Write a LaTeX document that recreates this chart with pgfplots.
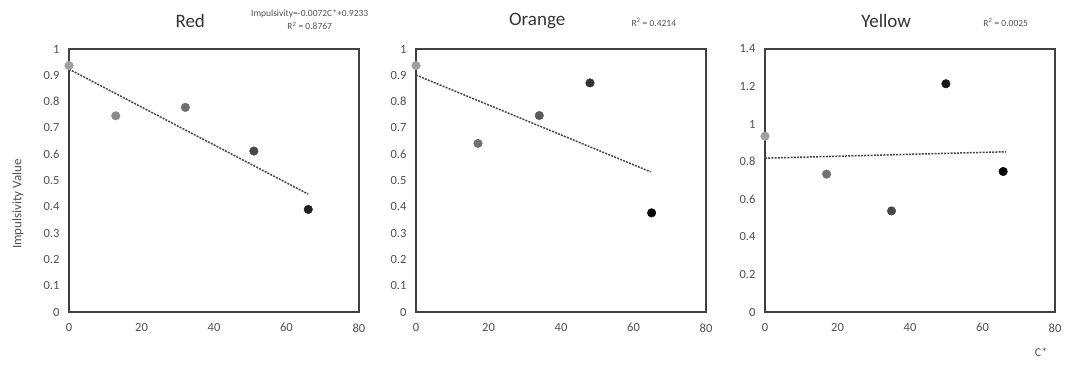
\documentclass[border=0pt]{standalone}
\usepackage{pgfplots}
\pgfplotsset{compat=1.18}
\usepackage{fontspec}
\setmainfont{Carlito}
\definecolor{boxc}{HTML}{404040}
\definecolor{txt}{HTML}{505050}
\definecolor{g1}{HTML}{A0A0A0}
\definecolor{g2}{HTML}{8C8C8C}
\definecolor{g3}{HTML}{707070}
\definecolor{g4}{HTML}{484848}
\definecolor{g5}{HTML}{202020}
\definecolor{trend}{HTML}{484848}
\pgfplotsset{
  panel/.style={
    scale only axis, width=290pt, height=263pt,
    anchor=south west,
    xmin=0, xmax=80, ymin=0,
    xtick={0,20,...,80},
    axis line style={boxc, line width=1.5pt},
    major tick length=0pt,
    tick label style={font=\fontsize{12.5}{14}\selectfont, text=txt},
    /pgf/number format/assume math mode=true,
    yticklabel style={xshift=-6pt},
    xticklabel style={yshift=-8pt},
    clip=false,
  },
  dotpt/.style={only marks, mark=*, mark size=4.3pt, color=#1, mark options={draw=#1, fill=#1}},
  tl/.style={trend, line width=1.5pt, dash pattern=on 2pt off 1.2pt},
}
\begin{document}
\begin{tikzpicture}
\useasboundingbox (0,0) rectangle (1067pt,-364pt);
% Red
\begin{axis}[panel, at={(69pt,-312pt)}, ymax=1, ytick={0,0.1,...,1.0},
  yticklabels={0,0.1,0.2,0.3,0.4,0.5,0.6,0.7,0.8,0.9,1}]
\addplot[tl] coordinates {(0,0.9233) (66,0.4481)};
\addplot[dotpt=g1] coordinates {(0,0.937)};
\addplot[dotpt=g2] coordinates {(12.9,0.746)};
\addplot[dotpt=g3] coordinates {(32.1,0.778)};
\addplot[dotpt=g4] coordinates {(51,0.612)};
\addplot[dotpt=g5] coordinates {(66,0.390)};
\path (rel axis cs:0,0.41) ++(-51pt,0) node[font=\fontsize{13}{15}\selectfont, text=txt, rotate=90] {Impulsivity Value};
\node[font=\fontsize{19}{22}\selectfont, text=black!80] at (rel axis cs:0.418,1.105) {Red};
\node[font=\fontsize{9.5}{11}\selectfont, text=txt, align=center] at (rel axis cs:0.83,1.11) {Impulsivity=-0.0072C*+0.9233\\[2pt]R\textsuperscript{2} = 0.8767};
\end{axis}
% Orange
\begin{axis}[panel, at={(416pt,-312pt)}, ymax=1, ytick={0,0.1,...,1.0},
  yticklabels={0,0.1,0.2,0.3,0.4,0.5,0.6,0.7,0.8,0.9,1}]
\addplot[tl] coordinates {(0,0.901) (64.7,0.533)};
\addplot[dotpt=g1] coordinates {(0,0.937)};
\addplot[dotpt=g3] coordinates {(17.1,0.641)};
\addplot[dotpt=g3!80!black] coordinates {(34,0.747)};
\addplot[dotpt=g4!70!black] coordinates {(48,0.871)};
\addplot[dotpt=black] coordinates {(65,0.377)};
\node[font=\fontsize{19}{22}\selectfont, text=black!80] at (rel axis cs:0.418,1.105) {Orange};
\node[font=\fontsize{9.5}{11}\selectfont, text=txt] at (rel axis cs:0.82,1.1) {R\textsuperscript{2} = 0.4214};
\end{axis}
% Yellow
\begin{axis}[panel, at={(765pt,-312pt)}, ymax=1.4, ytick={0,0.2,...,1.4},
  yticklabels={0,0.2,0.4,0.6,0.8,1,1.2,1.4}]
\addplot[tl] coordinates {(0,0.819) (66.5,0.853)};
\addplot[dotpt=g1] coordinates {(0,0.936)};
\addplot[dotpt=g3] coordinates {(17,0.734)};
\addplot[dotpt=g4] coordinates {(34.9,0.538)};
\addplot[dotpt=black!90] coordinates {(49.9,1.215)};
\addplot[dotpt=black] coordinates {(65.7,0.748)};
\node[font=\fontsize{19}{22}\selectfont, text=black!80] at (rel axis cs:0.418,1.105) {Yellow};
\node[font=\fontsize{9.5}{11}\selectfont, text=txt] at (rel axis cs:0.83,1.1) {R\textsuperscript{2} = 0.0025};
\path (rel axis cs:0.952,0) ++(0,-40pt) node[font=\fontsize{12}{14}\selectfont, text=txt] {C*};
\end{axis}
\end{tikzpicture}
\end{document}
